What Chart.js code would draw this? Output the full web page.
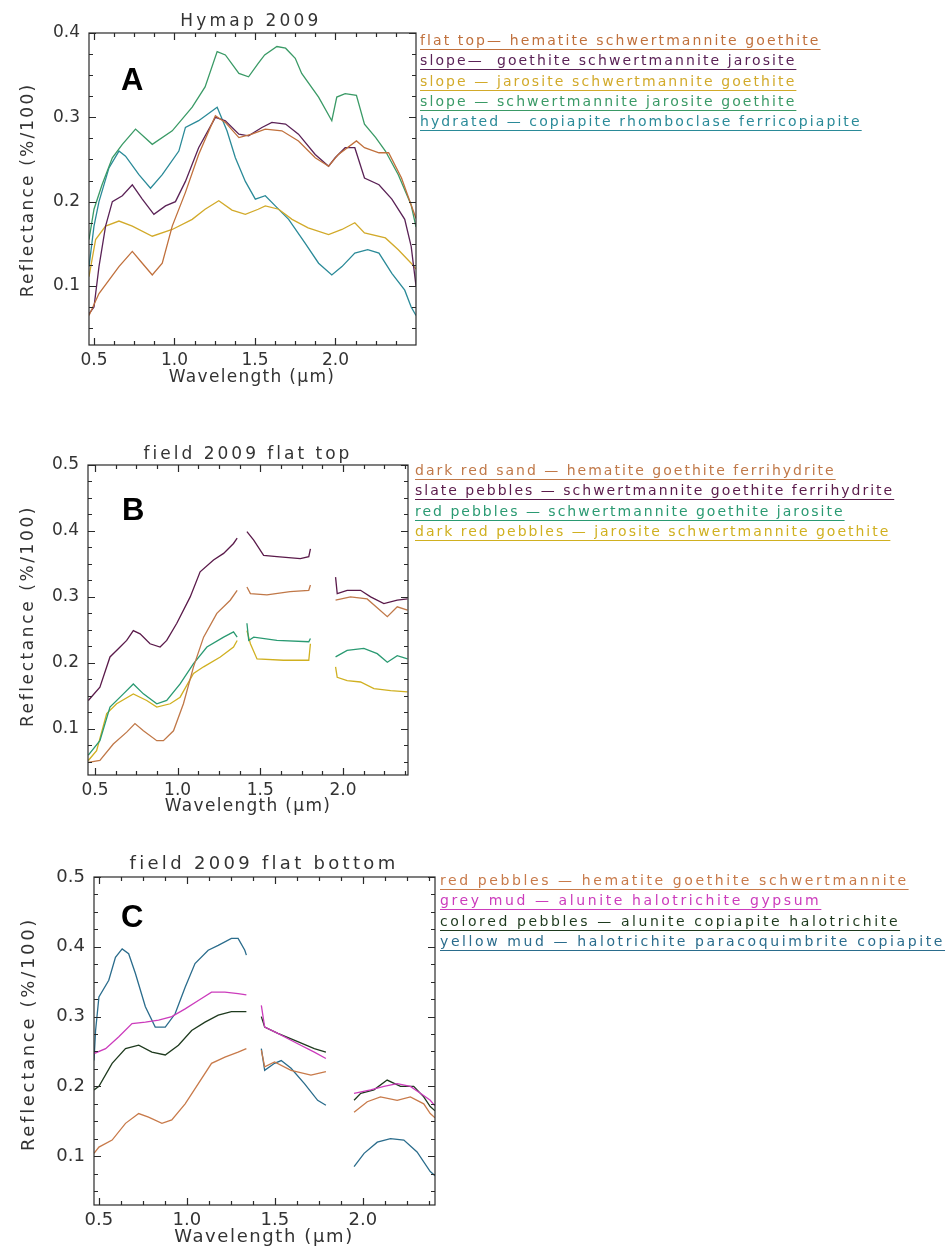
<!DOCTYPE html>
<html><head><meta charset="utf-8">
<script src="https://cdn.jsdelivr.net/npm/chart.js@4/dist/chart.umd.min.js"></script>
<style>
html,body{margin:0;padding:0;background:#fff;width:948px;height:1247px;overflow:hidden;}
#page{position:relative;width:948px;height:1247px;}
canvas{position:absolute;}
.t{position:absolute;font-family:"DejaVu Sans",sans-serif;color:#333;white-space:pre;transform:translate(-50%,-50%);}
.yt{transform:translate(-50%,-50%) rotate(-90deg);}
.lg{position:absolute;font-family:"DejaVu Sans",sans-serif;font-size:14px;letter-spacing:2.1px;line-height:20px;white-space:pre;text-decoration:underline;text-underline-offset:4px;text-decoration-thickness:1px;}
.big{position:absolute;font-family:"Liberation Sans",Arial,sans-serif;font-weight:bold;font-size:31px;line-height:1;color:#000;}
</style></head>
<body><div id="page">
<canvas id="cA" width="430" height="385" style="left:0;top:0"></canvas>
<canvas id="cB" width="430" height="380" style="left:0;top:440px"></canvas>
<canvas id="cC" width="445" height="417" style="left:0;top:830px"></canvas>

<div class="t" style="left:251px;top:20px;font-size:17px;letter-spacing:3.2px">Hymap 2009</div>
<div class="t yt" style="left:27px;top:190px;font-size:17px;letter-spacing:2.2px">Reflectance (%/100)</div>
<div class="t" style="left:252px;top:376px;font-size:17px;letter-spacing:1.3px">Wavelength (µm)</div>
<div class="big" style="left:121px;top:64px">A</div>

<div class="t" style="left:248px;top:453px;font-size:17px;letter-spacing:3px">field 2009 flat top</div>
<div class="t yt" style="left:27px;top:616px;font-size:17px;letter-spacing:2.6px">Reflectance (%/100)</div>
<div class="t" style="left:248px;top:805px;font-size:17px;letter-spacing:1.3px">Wavelength (µm)</div>
<div class="big" style="left:122px;top:494px">B</div>

<div class="t" style="left:264px;top:862px;font-size:18px;letter-spacing:3.3px">field 2009 flat bottom</div>
<div class="t yt" style="left:27px;top:1034px;font-size:18px;letter-spacing:2.7px">Reflectance (%/100)</div>
<div class="t" style="left:264px;top:1235px;font-size:18px;letter-spacing:1.6px">Wavelength (µm)</div>
<div class="big" style="left:121px;top:901px">C</div>

<div id="legends"></div>
</div>
<script>
// ---------- tick labels ----------
const xTicks = [0.5, 1.0, 1.5, 2.0];
const yTicksA = [0.1, 0.2, 0.3, 0.4];
const yTicksBC = [0.1, 0.2, 0.3, 0.4, 0.5];

// ---------- Panel A : Hymap 2009 ----------
const labelsA = [
  "flat top— hematite schwertmannite goethite",
  "slope—  goethite schwertmannite jarosite",
  "slope — jarosite schwertmannite goethite",
  "slope — schwertmannite jarosite goethite",
  "hydrated — copiapite rhomboclase ferricopiapite"
];
const colorsA = ["#c0703c", "#5a2256", "#d2aa2a", "#3a9a66", "#2a8a98"];

const wlA_flatTop = [0.469,0.531,0.593,0.655,0.738,0.80,0.862,0.924,0.986,1.068,1.15,1.254,1.316,1.40,1.48,1.564,1.667,1.77,1.874,1.957,2.018,2.13,2.18,2.27,2.33,2.41,2.47,2.5];
const rA_flatTop  = [0.065,0.091,0.107,0.123,0.141,0.127,0.113,0.127,0.171,0.211,0.256,0.302,0.294,0.276,0.28,0.286,0.284,0.272,0.252,0.242,0.256,0.272,0.264,0.258,0.258,0.228,0.196,0.18];

const wlA_slopeGoe = [0.469,0.50,0.531,0.572,0.614,0.676,0.738,0.80,0.872,0.944,1.006,1.068,1.15,1.254,1.316,1.40,1.46,1.543,1.605,1.69,1.77,1.874,1.957,1.998,2.06,2.12,2.18,2.27,2.35,2.43,2.47,2.5];
const rA_slopeGoe  = [0.067,0.075,0.123,0.171,0.2,0.207,0.22,0.203,0.185,0.195,0.2,0.224,0.264,0.3,0.296,0.28,0.278,0.288,0.294,0.292,0.28,0.256,0.242,0.252,0.264,0.264,0.228,0.22,0.203,0.179,0.147,0.1];

const wlA_slopeJar = [0.469,0.51,0.572,0.655,0.738,0.862,0.986,1.11,1.19,1.275,1.357,1.44,1.52,1.564,1.647,1.73,1.83,1.957,2.04,2.12,2.18,2.31,2.39,2.47,2.5];
const rA_slopeJar  = [0.111,0.155,0.171,0.177,0.171,0.159,0.167,0.179,0.191,0.201,0.19,0.185,0.191,0.195,0.191,0.179,0.169,0.161,0.167,0.175,0.163,0.157,0.143,0.127,0.12];

const wlA_slopeSch = [0.469,0.50,0.55,0.614,0.676,0.758,0.862,0.986,1.11,1.19,1.265,1.316,1.40,1.46,1.52,1.56,1.636,1.69,1.75,1.79,1.895,1.977,2.008,2.06,2.13,2.18,2.25,2.31,2.39,2.47,2.5];
const rA_slopeSch  = [0.155,0.191,0.22,0.252,0.268,0.286,0.268,0.284,0.312,0.336,0.378,0.374,0.352,0.348,0.364,0.374,0.384,0.382,0.37,0.352,0.324,0.296,0.324,0.328,0.326,0.292,0.276,0.26,0.232,0.196,0.17];

const wlA_hydrated = [0.469,0.50,0.531,0.593,0.655,0.696,0.779,0.851,0.924,1.027,1.068,1.15,1.265,1.326,1.378,1.44,1.502,1.564,1.626,1.709,1.81,1.895,1.977,2.04,2.12,2.2,2.27,2.35,2.43,2.47,2.5];
const rA_hydrated  = [0.123,0.171,0.2,0.24,0.26,0.254,0.232,0.216,0.232,0.26,0.288,0.296,0.312,0.284,0.252,0.224,0.203,0.207,0.195,0.179,0.151,0.127,0.113,0.123,0.139,0.143,0.139,0.115,0.095,0.075,0.065];

// ---------- Panel B : field 2009 flat top ----------
const labelsB = [
  "dark red sand — hematite goethite ferrihydrite",
  "slate pebbles — schwertmannite goethite ferrihydrite",
  "red pebbles — schwertmannite goethite jarosite",
  "dark red pebbles — jarosite schwertmannite goethite"
];
const colorsB = ["#c07848", "#5a1a4a", "#2a9a72", "#d0b020"];

const wlB_sand = [0.46,0.53,0.611,0.692,0.742,0.793,0.874,0.914,0.975,1.035,1.096,1.157,1.237,1.318,1.36,1.39,1.419,1.44,1.54,1.68,1.793,1.803,1.88,1.955,2.045,2.146,2.268,2.328,2.39];
const rB_sand  = [0.049,0.052,0.077,0.095,0.108,0.097,0.082,0.082,0.097,0.138,0.194,0.239,0.275,0.295,0.31,null,0.315,0.305,0.303,0.308,0.31,0.318,null,0.295,0.30,0.297,0.27,0.285,0.28];

const wlB_slate = [0.46,0.53,0.591,0.652,0.692,0.732,0.773,0.833,0.894,0.934,0.995,1.076,1.136,1.217,1.278,1.338,1.36,1.39,1.419,1.46,1.52,1.60,1.742,1.793,1.803,1.88,1.955,1.965,2.025,2.106,2.167,2.247,2.328,2.39];
const rB_slate  = [0.143,0.163,0.209,0.224,0.234,0.249,0.244,0.229,0.224,0.234,0.26,0.3,0.338,0.356,0.366,0.381,0.389,null,0.399,0.386,0.363,0.361,0.358,0.361,0.373,null,0.330,0.305,0.31,0.31,0.30,0.29,0.295,0.297];

const wlB_redPeb = [0.46,0.53,0.591,0.672,0.732,0.793,0.874,0.934,1.015,1.096,1.177,1.278,1.338,1.36,1.39,1.419,1.43,1.46,1.60,1.793,1.803,1.88,1.955,2.025,2.126,2.207,2.268,2.328,2.39];
const rB_redPeb  = [0.06,0.082,0.133,0.153,0.168,0.153,0.138,0.143,0.168,0.199,0.224,0.239,0.247,0.239,null,0.26,0.234,0.239,0.234,0.232,0.237,null,0.209,0.219,0.222,0.214,0.201,0.211,0.206];

const wlB_darkRedPeb = [0.46,0.51,0.571,0.631,0.732,0.813,0.874,0.955,1.015,1.096,1.157,1.258,1.338,1.36,1.39,1.419,1.44,1.48,1.64,1.793,1.803,1.88,1.955,1.965,2.025,2.106,2.187,2.288,2.39];
const rB_darkRedPeb  = [0.052,0.067,0.123,0.138,0.153,0.143,0.133,0.138,0.148,0.184,0.194,0.209,0.224,0.234,null,0.249,0.229,0.206,0.204,0.204,0.229,null,0.194,0.178,0.173,0.171,0.161,0.158,0.156];

// ---------- Panel C : field 2009 flat bottom ----------
const labelsC = [
  "red pebbles — hematite goethite schwertmannite",
  "grey mud — alunite halotrichite gypsum",
  "colored pebbles — alunite copiapite halotrichite",
  "yellow mud — halotrichite paracoquimbrite copiapite"
];
const colorsC = ["#c87a4a", "#cc3cbc", "#1e3a1e", "#2a6c8c"];

const wlC_redPeb = [0.472,0.5,0.575,0.651,0.726,0.782,0.858,0.914,0.99,1.065,1.14,1.216,1.291,1.338,1.38,1.423,1.442,1.498,1.592,1.705,1.79,1.87,1.95,2.025,2.1,2.195,2.27,2.346,2.383,2.41];
const rC_redPeb  = [0.104,0.113,0.123,0.147,0.161,0.156,0.147,0.152,0.175,0.204,0.233,0.242,0.249,0.254,null,0.252,0.228,0.235,0.223,0.216,0.221,null,0.163,0.178,0.185,0.18,0.185,0.175,0.161,0.155];

const wlC_greyMud = [0.472,0.538,0.613,0.688,0.764,0.839,0.914,0.99,1.065,1.14,1.216,1.291,1.338,1.38,1.423,1.442,1.517,1.63,1.724,1.79,1.87,1.95,2.044,2.12,2.195,2.27,2.327,2.383,2.41];
const rC_greyMud  = [0.247,0.254,0.271,0.29,0.292,0.295,0.3,0.311,0.323,0.335,0.335,0.333,0.331,null,0.316,0.285,0.276,0.261,0.249,0.24,null,0.19,0.195,0.2,0.204,0.2,0.19,0.18,0.172];

const wlC_colPeb = [0.472,0.5,0.575,0.651,0.726,0.801,0.877,0.952,1.027,1.103,1.178,1.253,1.338,1.38,1.423,1.442,1.517,1.63,1.724,1.79,1.87,1.95,1.988,2.063,2.138,2.214,2.289,2.346,2.383,2.41];
const rC_colPeb  = [0.195,0.2,0.233,0.254,0.259,0.249,0.245,0.259,0.28,0.292,0.302,0.307,0.307,null,0.3,0.285,0.276,0.264,0.254,0.249,null,0.18,0.19,0.195,0.209,0.2,0.2,0.185,0.171,0.165];

const wlC_yellowMud = [0.472,0.481,0.5,0.556,0.594,0.632,0.669,0.707,0.764,0.82,0.877,0.933,0.99,1.046,1.121,1.178,1.253,1.291,1.329,1.338,1.38,1.423,1.442,1.498,1.536,1.592,1.668,1.743,1.79,1.87,1.95,2.007,2.082,2.157,2.233,2.308,2.383,2.41];
const rC_yellowMud  = [0.237,0.28,0.328,0.352,0.385,0.397,0.39,0.362,0.314,0.285,0.285,0.304,0.342,0.376,0.395,0.402,0.412,0.412,0.395,0.388,null,0.254,0.223,0.233,0.237,0.226,0.204,0.18,0.173,null,0.085,0.104,0.12,0.125,0.123,0.106,0.078,0.072];

// ---------- helpers ----------
const pts = (wl, r) => wl.map((x, i) => ({x: x, y: r[i]}));
const ds = (label, color, wl, r) => ({
  label, data: pts(wl, r), borderColor: color, backgroundColor: color,
  borderWidth: 1.3, pointRadius: 0, tension: 0, spanGaps: false, fill: false
});

const boxTicks = {
  id: 'boxTicks',
  afterDraw(chart, args, o) {
    const {ctx, chartArea: a, scales: {x, y}} = chart;
    ctx.save();
    ctx.strokeStyle = '#2a2a2a';
    ctx.lineWidth = 1.2;
    ctx.beginPath();
    const isMajor = (arr, v) => arr.some(m => Math.abs(m - v) < 1e-6);
    let i0 = Math.ceil(x.min / o.xStep - 1e-9);
    for (let i = i0; i * o.xStep <= x.max + 1e-9; i++) {
      const v = i * o.xStep;
      const len = isMajor(o.xMajor, v) ? o.majorLen : o.minorLen;
      const p = Math.round(x.getPixelForValue(v)) + 0.5;
      if (p < a.left || p > a.right) continue;
      ctx.moveTo(p, a.bottom); ctx.lineTo(p, a.bottom - len);
      ctx.moveTo(p, a.top); ctx.lineTo(p, a.top + len);
    }
    i0 = Math.ceil(y.min / o.yStep - 1e-9);
    for (let i = i0; i * o.yStep <= y.max + 1e-9; i++) {
      const v = i * o.yStep;
      const len = isMajor(o.yMajor, v) ? o.majorLen : o.minorLen;
      const p = Math.round(y.getPixelForValue(v)) + 0.5;
      if (p < a.top || p > a.bottom) continue;
      ctx.moveTo(a.left, p); ctx.lineTo(a.left + len, p);
      ctx.moveTo(a.right, p); ctx.lineTo(a.right - len, p);
    }
    ctx.stroke();
    ctx.strokeRect(a.left, a.top, a.right - a.left, a.bottom - a.top);
    ctx.restore();
  }
};

function makeChart(id, datasets, xr, yr, yTicks, fs, yW, xH, pad) {
  return new Chart(document.getElementById(id), {
    type: 'line',
    data: {datasets},
    plugins: [boxTicks],
    options: {
      responsive: false, animation: false, devicePixelRatio: 1,
      layout: {padding: pad},
      plugins: {
        legend: {display: false}, tooltip: {enabled: false}, title: {display: false},
        boxTicks: {xStep: 0.125, yStep: 0.025, xMajor: xTicks, yMajor: yTicks, majorLen: 7, minorLen: 4}
      },
      scales: {
        x: {
          type: 'linear', min: xr[0], max: xr[1],
          grid: {display: false, drawTicks: false}, border: {display: false},
          ticks: {color: '#333', padding: 5, font: {family: 'DejaVu Sans', size: fs}, callback: v => v.toFixed(1), autoSkip: false, maxRotation: 0},
          afterBuildTicks: s => { s.ticks = xTicks.map(v => ({value: v})); },
          afterFit: s => { s.height = xH; }
        },
        y: {
          type: 'linear', min: yr[0], max: yr[1],
          grid: {display: false, drawTicks: false}, border: {display: false},
          ticks: {color: '#333', padding: 9, font: {family: 'DejaVu Sans', size: fs}, callback: v => v.toFixed(1), autoSkip: false},
          afterBuildTicks: s => { s.ticks = yTicks.map(v => ({value: v})); },
          afterFit: s => { s.width = yW; }
        }
      }
    }
  });
}

makeChart('cA', [
  ds(labelsA[0], colorsA[0], wlA_flatTop, rA_flatTop),
  ds(labelsA[1], colorsA[1], wlA_slopeGoe, rA_slopeGoe),
  ds(labelsA[2], colorsA[2], wlA_slopeJar, rA_slopeJar),
  ds(labelsA[3], colorsA[3], wlA_slopeSch, rA_slopeSch),
  ds(labelsA[4], colorsA[4], wlA_hydrated, rA_hydrated)
], [0.469, 2.5], [0.03, 0.40], yTicksA, 17, 89, 40, {left: 0, top: 33, right: 14, bottom: 0});

makeChart('cB', [
  ds(labelsB[0], colorsB[0], wlB_sand, rB_sand),
  ds(labelsB[1], colorsB[1], wlB_slate, rB_slate),
  ds(labelsB[2], colorsB[2], wlB_redPeb, rB_redPeb),
  ds(labelsB[3], colorsB[3], wlB_darkRedPeb, rB_darkRedPeb)
], [0.458, 2.393], [0.03, 0.50], yTicksBC, 17, 88, 45, {left: 0, top: 25, right: 22, bottom: 0});

makeChart('cC', [
  ds(labelsC[0], colorsC[0], wlC_redPeb, rC_redPeb),
  ds(labelsC[1], colorsC[1], wlC_greyMud, rC_greyMud),
  ds(labelsC[2], colorsC[2], wlC_colPeb, rC_colPeb),
  ds(labelsC[3], colorsC[3], wlC_yellowMud, rC_yellowMud)
], [0.472, 2.41], [0.03, 0.50], yTicksBC, 18, 94, 42, {left: 0, top: 47, right: 10, bottom: 0});

// ---------- HTML legends (coloured, underlined text) ----------
function legend(labels, colors, left, top, spacing) {
  const host = document.getElementById('legends');
  labels.forEach((t, i) => {
    const d = document.createElement('div');
    d.className = 'lg';
    d.textContent = t;
    d.style.left = left + 'px';
    d.style.top = (top + i * 20.3) + 'px';
    d.style.color = colors[i];
    d.style.letterSpacing = spacing + 'px';
    host.appendChild(d);
  });
}
legend(labelsA, colorsA, 420, 30, 2.1);
legend(labelsB, colorsB, 415, 460, 2.0);
legend(labelsC, colorsC, 440, 870, 2.6);
</script>
</body></html>
